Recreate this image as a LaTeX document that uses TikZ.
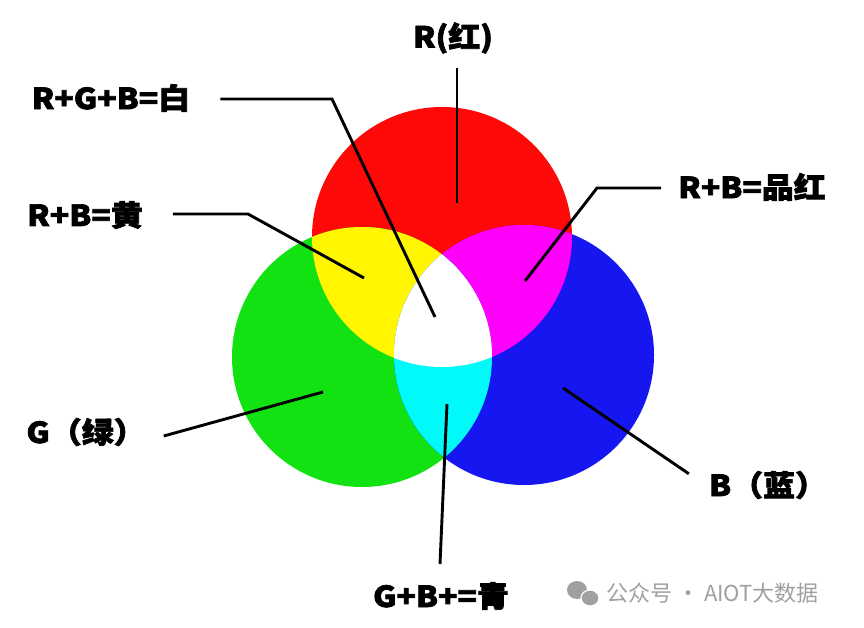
\documentclass[tikz,border=0pt]{standalone}
\usepackage{fontspec}
\setmainfont{Noto Sans CJK SC}
\newfontfamily\labfont{Noto Sans CJK SC}[FakeBold=2.5,FakeStretch=1.1]
\newfontfamily\markfont{Noto Sans CJK SC}
\usepackage{tikz}

\definecolor{cred}{RGB}{255,8,8}
\definecolor{cgreen}{RGB}{18,226,18}
\definecolor{cblue}{RGB}{22,22,240}
\definecolor{cyellow}{RGB}{255,246,0}
\definecolor{cmagenta}{RGB}{255,0,250}
\definecolor{ccyan}{RGB}{0,250,250}
\definecolor{markgray}{RGB}{160,160,160}

\tikzset{
    lab/.style={inner sep=0pt, font=\labfont\bfseries\fontsize{29}{32}\selectfont},
    leader/.style={line width=2.9pt, black},
}

\begin{document}
\begin{tikzpicture}[x=1pt, y=-1pt]
        \useasboundingbox (0,0) rectangle (864,628);
        \fill[white] (0,0) rectangle (864,628);
        % three primaries
        \coordinate (r) at (442,237);
        \coordinate (g) at (362,357);
        \coordinate (b) at (524,355);
        \fill[cred] (r) circle[radius=130pt];
        \fill[cgreen] (g) circle[radius=130pt];
        \fill[cblue] (b) circle[radius=130pt];
        % pairwise mixes
        \begin{scope}
          \clip (r) circle[radius=130pt];
          \fill[cyellow] (g) circle[radius=130pt];
          \fill[cmagenta] (b) circle[radius=130pt];
        \end{scope}
        \begin{scope}
          \clip (g) circle[radius=130pt];
          \fill[ccyan] (b) circle[radius=130pt];
          \clip (b) circle[radius=130pt];
          \fill[white] (r) circle[radius=130pt];
        \end{scope}

        % labels
        \node[lab] (lr) at (453,38) {R(红)};
        \node[lab] (lrgb) at (111,98) {R+G+B=白};
        \node[lab] (lrb) at (85,215) {R+B=黄};
        \node[lab] (lrbm) at (752,187) {R+B=品红};
        \node[lab] (lg) at (86,432) {G（绿）};
        \node[lab] (lb) at (768,485) {B（蓝）};
        \node[lab] (lgb) at (441,596) {G+B+=青};

        % leader lines
        \coordinate (pr) at (457,203);
        \coordinate (kw) at (332,99);
        \coordinate (pw) at (435,317);
        \coordinate (ky) at (248,214);
        \coordinate (py) at (364,278);
        \coordinate (km) at (597,188);
        \coordinate (pm) at (525,281);
        \coordinate (pg) at (323,392);
        \coordinate (pb) at (563,388);
        \coordinate (pc) at (447,404);
        \draw[leader] ([yshift=-14pt]lr.south -| pr) -- (pr);
        \draw[leader] ([xshift=30pt]lrgb.east |- kw) -- (kw) -- (pw);
        \draw[leader] ([xshift=30pt]lrb.east |- ky) -- (ky) -- (py);
        \draw[leader] ([xshift=-17pt]lrbm.west |- km) -- (km) -- (pm);
        \draw[leader] ([xshift=18pt,yshift=-4pt]lg.east) -- (pg);
        \draw[leader] ([xshift=-20pt,yshift=-3pt]lb.north west) -- (pb);
        \draw[leader] ([yshift=18pt]lgb.north -| 440,0) -- (pc);

        % watermark
        \fill[markgray] (577,590) ellipse[x radius=10pt, y radius=9pt];
        \fill[markgray, draw=white, line width=1.2pt] (590,598) ellipse[x radius=9pt, y radius=8pt];
        \node[font=\markfont\fontsize{22}{24}\selectfont, text=markgray, anchor=west, inner sep=0pt] (wm) at (606,593) {公众号 · AIOT大数据};
\end{tikzpicture}
\end{document}
